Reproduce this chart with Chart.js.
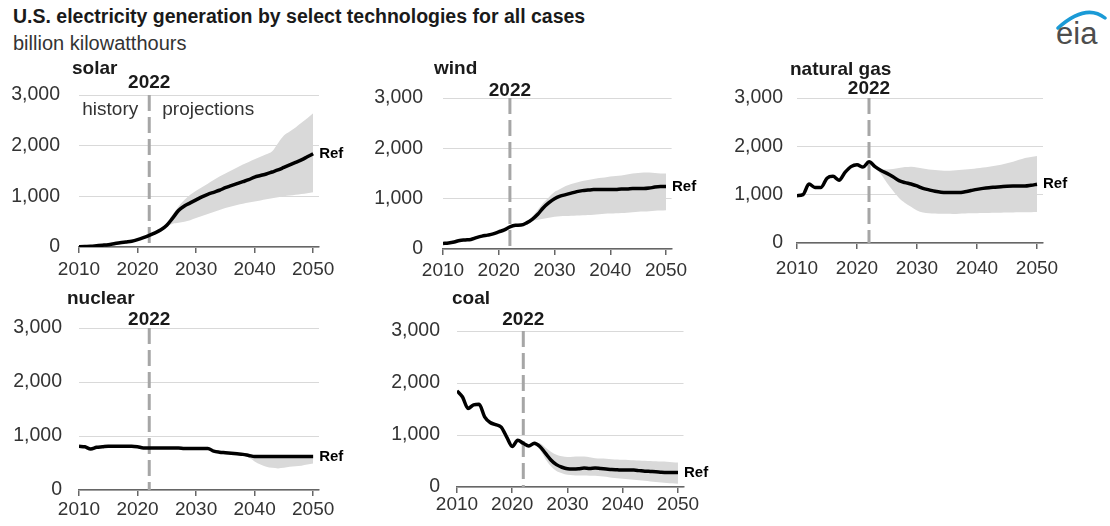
<!DOCTYPE html>
<html>
<head>
<meta charset="utf-8">
<script src="https://cdn.jsdelivr.net/npm/chart.js@4.4.0/dist/chart.umd.min.js"></script>
<style>
  body { margin: 0; background: #fff; width: 1110px; height: 526px; position: relative; overflow: hidden;
         font-family: "Liberation Sans", Arial, sans-serif; }
  #title { position: absolute; left: 13px; top: 5px; font-weight: bold; font-size: 19.5px; color: #1a1a1a; white-space: nowrap; }
  #sub { position: absolute; left: 13px; top: 32px; font-size: 20px; color: #333; white-space: nowrap; }
  canvas { position: absolute; }
  #logo { position: absolute; left: 1052px; top: 3px; width: 58px; height: 50px; }
  #logo span { position: absolute; left: 4px; top: 13px; font-size: 31px; color: #4d4d4d; }
</style>
</head>
<body>
<div id="title">U.S. electricity generation by select technologies for all cases</div>
<div id="sub">billion kilowatthours</div>
<div id="logo">
  <svg width="58" height="30" style="position:absolute;left:0;top:0">
    <path d="M6 25 Q 34 0 53 15" stroke="#1a9ad6" stroke-width="3.5" fill="none" stroke-linecap="round"/>
  </svg>
  <span>eia</span>
</div>

<canvas id="solar" width="360" height="230"></canvas>
<canvas id="wind" width="355" height="230"></canvas>
<canvas id="gas" width="385" height="230"></canvas>
<canvas id="nuclear" width="360" height="240"></canvas>
<canvas id="coal" width="355" height="240"></canvas>

<script>
// Années 2010-2050
const years = [2010, 2011, 2012, 2013, 2014, 2015, 2016, 2017, 2018, 2019,
  2020, 2021, 2022, 2023, 2024, 2025, 2026, 2027, 2028, 2029,
  2030, 2031, 2032, 2033, 2034, 2035, 2036, 2037, 2038, 2039,
  2040, 2041, 2042, 2043, 2044, 2045, 2046, 2047, 2048, 2049, 2050];
// Plage des cas (2022-2050)
const projYears = years.slice(12);
const xTicks = [2010, 2020, 2030, 2040, 2050];
const yTicks = [0, 1000, 2000, 3000];

// Solaire
const solarRef = [5, 10, 15, 25, 35, 46, 65, 85, 100, 115,
  145, 185, 230, 280, 340, 430, 570, 720, 810, 870,
  930, 990, 1040, 1080, 1120, 1170, 1210, 1250, 1290, 1330,
  1380, 1410, 1440, 1480, 1520, 1570, 1620, 1670, 1720, 1780, 1840];
const solarHigh = [230, 285, 360, 480, 640, 800, 930, 1030, 1110, 1180,
  1250, 1320, 1390, 1450, 1510, 1570, 1630, 1680, 1730, 1780,
  1830, 1890, 2050, 2200, 2280, 2360, 2450, 2540, 2640];
const solarLow = [230, 275, 330, 400, 460, 480, 500, 530, 570, 610,
  650, 690, 730, 770, 800, 830, 855, 880, 900, 920,
  940, 960, 980, 1000, 1015, 1030, 1045, 1060, 1080];

// Éolien
const windRef = [110, 120, 140, 170, 180, 190, 225, 255, 275, 300,
  340, 380, 440, 470, 475, 520, 590, 690, 820, 920,
  1000, 1050, 1080, 1110, 1140, 1160, 1170, 1180, 1180, 1180,
  1180, 1180, 1190, 1190, 1200, 1200, 1200, 1210, 1230, 1240, 1240];
const windHigh = [440, 470, 480, 530, 640, 780, 920, 1030, 1130, 1190,
  1250, 1290, 1320, 1350, 1370, 1390, 1410, 1420, 1440, 1450,
  1460, 1480, 1500, 1510, 1520, 1520, 1510, 1500, 1500];
const windLow = [440, 470, 475, 510, 560, 580, 600, 620, 640, 650,
  655, 660, 665, 670, 675, 680, 690, 700, 705, 710,
  715, 720, 730, 740, 745, 750, 760, 765, 770];

// Gaz naturel
const gasRef = [980, 1000, 1220, 1150, 1150, 1340, 1380, 1300, 1460, 1580,
  1620, 1570, 1680, 1580, 1500, 1440, 1370, 1290, 1250, 1220,
  1180, 1130, 1100, 1070, 1050, 1045, 1045, 1045, 1060, 1085,
  1110, 1130, 1145, 1155, 1165, 1175, 1180, 1180, 1180, 1195, 1215];
const gasHigh = [1680, 1580, 1530, 1520, 1530, 1550, 1570, 1580, 1560, 1540,
  1520, 1510, 1500, 1495, 1500, 1510, 1520, 1530, 1545, 1560,
  1580, 1600, 1620, 1650, 1680, 1720, 1760, 1780, 1800];
const gasLow = [1680, 1560, 1420, 1240, 1080, 930, 830, 750, 670, 630,
  615, 610, 605, 605, 600, 605, 610, 615, 618, 620,
  622, 625, 628, 630, 632, 634, 636, 638, 640];

// Nucléaire
const nuclearRef = [810, 800, 760, 790, 800, 810, 810, 810, 810, 810,
  800, 780, 780, 780, 780, 780, 780, 780, 770, 770,
  770, 770, 770, 720, 700, 690, 680, 670, 660, 640,
  620, 620, 620, 620, 620, 620, 620, 620, 620, 620, 620];
const nuclearHigh = [780, 780, 780, 780, 780, 780, 770, 770, 770, 770,
  770, 720, 700, 690, 680, 670, 670, 660, 650, 630,
  620, 620, 620, 620, 620, 620, 620, 620, 620];
const nuclearLow = [780, 780, 780, 780, 780, 780, 770, 770, 770, 770,
  770, 720, 700, 690, 680, 670, 650, 600, 530, 470,
  430, 410, 400, 410, 430, 440, 450, 470, 490];

// Charbon
const coalRef = [1850, 1730, 1510, 1580, 1590, 1350, 1240, 1200, 1150, 960,
  780, 900, 840, 790, 840, 780, 650, 520, 430, 380,
  350, 345, 350, 365, 355, 365, 355, 345, 335, 330,
  325, 325, 325, 315, 305, 300, 295, 285, 280, 280, 280];
const coalHigh = [840, 800, 850, 840, 760, 680, 620, 590, 575, 580,
  585, 585, 570, 555, 550, 545, 535, 530, 523, 520,
  515, 510, 505, 500, 495, 490, 485, 478, 472];
const coalLow = [840, 780, 800, 715, 540, 400, 310, 265, 235, 225,
  220, 220, 218, 215, 205, 195, 180, 170, 160, 150,
  140, 130, 120, 108, 98, 88, 78, 70, 64];

// Mise en page des panneaux (coordonnées de la page)
const panels = [
  { id: 'solar', name: 'solar', ref: solarRef, high: solarHigh, low: solarLow,
    box: [0, 55], plot: [79, 319, 95, 247], titleAt: [72, 69], yearY: 82.5, yPad: 19, xPad: 5, notes: true },
  { id: 'wind', name: 'wind', ref: windRef, high: windHigh, low: windLow,
    box: [365, 55], plot: [443, 671.6, 98, 249], titleAt: [434, 69], yearY: 91, yPad: 20, xPad: 4 },
  { id: 'gas', name: 'natural gas', ref: gasRef, high: gasHigh, low: gasLow,
    box: [725, 55], plot: [797, 1043, 98, 243], titleAt: [790, 70], yearY: 89, yPad: 14, xPad: 8 },
  { id: 'nuclear', name: 'nuclear', ref: nuclearRef, high: nuclearHigh, low: nuclearLow,
    box: [0, 285], plot: [79, 319, 328, 490], titleAt: [67, 299], yearY: 320, yPad: 17, xPad: 2 },
  { id: 'coal', name: 'coal', ref: coalRef, high: coalHigh, low: coalLow,
    box: [365, 285], plot: [457, 683.5, 331, 487], titleAt: [452, 299], yearY: 320, yPad: 17, xPad: 0 }
];

const FONT = '"Liberation Sans", Arial, sans-serif';
const X_AXIS_H = 32;

// Plugin : ligne 2022, titres, étiquettes
const overlay = {
  id: 'overlay',
  beforeDatasetsDraw(chart, args, o) {
    const { ctx, chartArea, scales } = chart;
    const px = scales.x.getPixelForValue(2022);
    ctx.save();
    ctx.strokeStyle = '#a6a6a6';
    ctx.lineWidth = 3;
    ctx.setLineDash([16, 6]);
    ctx.beginPath();
    ctx.moveTo(px, chartArea.top);
    ctx.lineTo(px, chartArea.bottom);
    ctx.stroke();
    ctx.restore();
  },
  afterDraw(chart, args, o) {
    const { ctx, scales } = chart;
    const p = o.panel;
    const ox = p.box[0], oy = p.box[1];
    ctx.save();
    ctx.textBaseline = 'middle';
    ctx.fillStyle = '#1a1a1a';
    ctx.font = 'bold 19px ' + FONT;
    ctx.textAlign = 'left';
    ctx.fillText(p.name, p.titleAt[0] - ox, p.titleAt[1] - oy);
    ctx.textAlign = 'center';
    ctx.fillText('2022', scales.x.getPixelForValue(2022), p.yearY - oy);
    // étiquette Ref
    const last = p.ref[p.ref.length - 1];
    ctx.font = 'bold 15px ' + FONT;
    ctx.textAlign = 'left';
    ctx.fillStyle = '#000';
    ctx.fillText('Ref', scales.x.getPixelForValue(2050) + 6, scales.y.getPixelForValue(last));
    if (p.notes) {
      ctx.font = '19px ' + FONT;
      ctx.fillStyle = '#333';
      ctx.textAlign = 'right';
      ctx.fillText('history', scales.x.getPixelForValue(2022) - 11, 110 - oy);
      ctx.textAlign = 'left';
      ctx.fillText('projections', scales.x.getPixelForValue(2022) + 13, 110 - oy);
    }
    ctx.restore();
  }
};

function makePanel(p) {
  const canvas = document.getElementById(p.id);
  canvas.style.left = p.box[0] + 'px';
  canvas.style.top = p.box[1] + 'px';
  const cw = canvas.width, ch = canvas.height;
  const [pl, pr, pt, pb] = p.plot;
  const yW = pl - p.box[0];
  const padRight = p.box[0] + cw - pr;
  const padTop = pt - p.box[1];
  const padBottom = p.box[1] + ch - pb - X_AXIS_H;

  new Chart(canvas, {
    type: 'line',
    data: {
      datasets: [
        {
          label: 'Ref',
          data: years.map((yr, i) => ({ x: yr, y: p.ref[i] })),
          borderColor: '#000',
          borderWidth: 3.5,
          pointRadius: 0,
          cubicInterpolationMode: 'monotone',
          fill: false,
          order: 0
        },
        {
          label: 'high',
          data: projYears.map((yr, i) => ({ x: yr, y: p.high[i] })),
          borderWidth: 0,
          borderColor: 'rgba(0,0,0,0)',
          backgroundColor: '#d9d9d9',
          pointRadius: 0,
          cubicInterpolationMode: 'monotone',
          fill: '+1',
          order: 1
        },
        {
          label: 'low',
          data: projYears.map((yr, i) => ({ x: yr, y: p.low[i] })),
          borderWidth: 0,
          borderColor: 'rgba(0,0,0,0)',
          pointRadius: 0,
          cubicInterpolationMode: 'monotone',
          fill: false,
          order: 2
        }
      ]
    },
    options: {
      responsive: false,
      animation: false,
      layout: { padding: { left: 0, right: padRight, top: padTop, bottom: padBottom } },
      plugins: {
        legend: { display: false },
        tooltip: { enabled: false },
        overlay: { panel: p }
      },
      scales: {
        x: {
          type: 'linear',
          min: 2010,
          max: 2051,
          afterBuildTicks: axis => { axis.ticks = xTicks.map(v => ({ value: v })); },
          afterFit: scale => { scale.height = X_AXIS_H; },
          grid: { drawOnChartArea: false, drawTicks: true, tickLength: 6, color: '#666', lineWidth: 1.5 },
          border: { display: true, color: '#666', width: 1.5 },
          ticks: { padding: p.xPad, color: '#333', font: { size: 19, family: FONT }, maxRotation: 0, autoSkip: false,
                   callback: v => String(v) }
        },
        y: {
          min: 0,
          max: 3000,
          afterBuildTicks: axis => { axis.ticks = yTicks.map(v => ({ value: v })); },
          afterFit: scale => { scale.width = yW; },
          grid: { drawTicks: false, color: '#d9d9d9', lineWidth: 1 },
          border: { display: false },
          ticks: { padding: p.yPad, color: '#333', font: { size: 19.5, family: FONT },
                   callback: v => v.toLocaleString('en-US') }
        }
      }
    },
    plugins: [overlay]
  });
}

panels.forEach(makePanel);
</script>
</body>
</html>
